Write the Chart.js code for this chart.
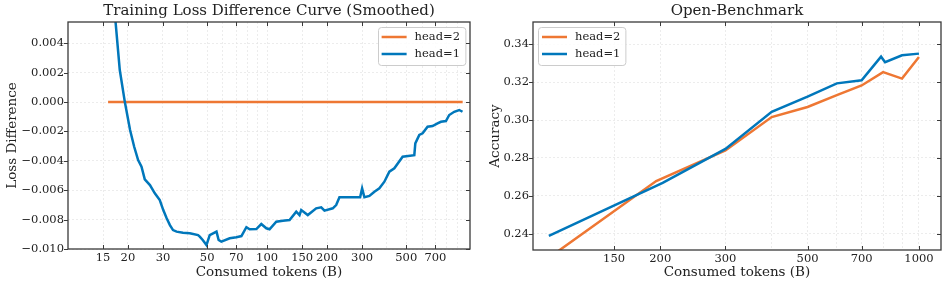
<!DOCTYPE html>
<html>
<head>
<meta charset="utf-8">
<script src="https://cdn.jsdelivr.net/npm/chart.js@4.4.1/dist/chart.umd.min.js"></script>
<style>
  html, body { margin: 0; padding: 0; background: #fff; }
  #wrap { position: relative; width: 947px; height: 287px; }
  .panel { position: absolute; top: 0; height: 287px; }
  #lossPanel { left: 0; width: 473px; }
  #benchPanel { left: 473px; width: 474px; }
</style>
</head>
<body>
<div id="wrap">
  <div class="panel" id="lossPanel"><canvas id="lossChart"></canvas></div>
  <div class="panel" id="benchPanel"><canvas id="benchChart"></canvas></div>
</div>
<script>
// ---- left panel: smoothed loss difference ----
const lossTokens = [16.3, 17.3, 18.2, 19.3, 20.5, 21.5, 22.5, 23.4, 24.3, 25.8, 27.3, 28.9, 30.1, 31.3, 32.5, 33.7,
  35.1, 37.8, 40.9, 45.0, 45.9, 47.5, 49.6, 51.5, 55.7, 57.1, 58.9, 64.9, 70.1, 74.3, 78.7, 81.7, 88.3, 93.5, 99.1,
  102.9, 111.2, 120.0, 129.7, 140.1, 145.5, 148.4, 160.1, 176.4, 187.0, 194.2, 213.7, 222.3, 230.9, 293.3, 300.1,
  308.2, 326.5, 345.9, 366.4, 388.2, 411.2, 435.6, 479.4, 548.8, 555.2, 581.4, 604.0, 639.8, 677.7, 717.9, 746.7,
  791.0, 821.8, 870.7, 922.4, 958.3];
const lossHead1 = [0.0118, 0.00558, 0.00218, 0.0, -0.0019, -0.00304, -0.00395, -0.0044, -0.00526, -0.00565, -0.00621,
  -0.00667, -0.00735, -0.00791, -0.00837, -0.00871, -0.00882, -0.00889, -0.00893, -0.00905, -0.00916, -0.00939,
  -0.00973, -0.00905, -0.00882, -0.00939, -0.0095, -0.00927, -0.0092, -0.00912, -0.00852, -0.00866, -0.00864,
  -0.0083, -0.00859, -0.00866, -0.00814, -0.00807, -0.00803, -0.00746, -0.00769, -0.00735, -0.00769, -0.00723,
  -0.00716, -0.00739, -0.00723, -0.00701, -0.00648, -0.00648, -0.00587, -0.00648, -0.00639, -0.0061, -0.00587,
  -0.00542, -0.00474, -0.00451, -0.00372, -0.00361, -0.00281, -0.00224, -0.00213, -0.00168, -0.00163, -0.00145,
  -0.00134, -0.00129, -0.00088, -0.00066, -0.00054, -0.00066];
const lossBaseTokens = [15.9, 960];
const lossHead2 = [0, 0];
const lossXTicks = [15, 20, 30, 50, 70, 100, 150, 200, 300, 500, 700];
const lossXGrid = [15, 20, 30, 40, 50, 60, 70, 80, 90, 100, 150, 200, 300, 400, 500, 600, 700, 800, 900];
const lossYTicks = [-0.010, -0.008, -0.006, -0.004, -0.002, 0.000, 0.002, 0.004];

// ---- right panel: Open-Benchmark accuracy ----
const benchTokensH2 = [100, 195, 300, 400, 500, 600, 700, 800, 900, 1000];
const benchHead2 = [0.2273, 0.2678, 0.2840, 0.3016, 0.3069, 0.3132, 0.3183, 0.3253, 0.3219, 0.3333];
const benchTokensH1 = [100, 203, 300, 400, 500, 600, 700, 790, 810, 900, 1000];
const benchHead1 = [0.2388, 0.2669, 0.2848, 0.3044, 0.3124, 0.3194, 0.3210, 0.3335, 0.3306, 0.3342, 0.3351];
const benchXTicks = [150, 200, 300, 500, 700, 1000];
const benchXGrid = [150, 200, 300, 400, 500, 600, 700, 800, 900, 1000];
const benchYTicks = [0.24, 0.26, 0.28, 0.30, 0.32, 0.34];

const ORANGE = '#EE7733';
const BLUE = '#0077BB';
const FONT = '"DejaVu Serif", serif';

Chart.defaults.font.family = FONT;
Chart.defaults.color = '#222';

const pairs = (xs, ys) => xs.map((x, i) => ({ x: x, y: ys[i] }));

// matplotlib-ish frame with inward ticks (outward on the left axis)
const frameTicks = {
  id: 'frameTicks',
  afterDraw(chart, args, opts) {
    const { ctx, chartArea: a, scales: { x, y } } = chart;
    ctx.save();
    ctx.strokeStyle = '#3a3a3a';
    ctx.lineWidth = 1;
    ctx.beginPath();
    opts.xMarks.forEach(v => {
      const px = Math.round(x.getPixelForValue(v)) + 0.5;
      ctx.moveTo(px, a.bottom); ctx.lineTo(px, a.bottom - 4);
      ctx.moveTo(px, a.top); ctx.lineTo(px, a.top + 4);
    });
    opts.yMarks.forEach(v => {
      const py = Math.round(y.getPixelForValue(v)) + 0.5;
      ctx.moveTo(a.left - 4, py); ctx.lineTo(a.left, py);
      ctx.moveTo(a.right, py); ctx.lineTo(a.right - 4, py);
    });
    ctx.stroke();
    ctx.lineWidth = 1.3;
    ctx.strokeRect(a.left, a.top, a.right - a.left, a.bottom - a.top);
    ctx.restore();
  }
};

const boxLegend = {
  id: 'boxLegend',
  afterDatasetsDraw(chart, args, opts) {
    const { ctx, chartArea: a } = chart;
    const items = chart.data.datasets;
    ctx.save();
    ctx.font = '11.5px ' + FONT;
    const textW = Math.max(...items.map(d => ctx.measureText(d.label).width));
    const w = 37 + textW + 5, h = 38;
    const bx = opts.align === 'right' ? a.right - 5 - w : a.left + 5;
    const by = a.top + 5;
    ctx.fillStyle = 'rgba(255,255,255,0.85)';
    ctx.strokeStyle = '#cccccc';
    ctx.lineWidth = 1;
    ctx.beginPath();
    ctx.roundRect(Math.round(bx) + 0.5, by + 0.5, w, h, 3);
    ctx.fill();
    ctx.stroke();
    items.forEach((d, i) => {
      const cy = by + 10 + i * 17;
      ctx.strokeStyle = d.borderColor;
      ctx.lineWidth = 2.5;
      ctx.beginPath();
      ctx.moveTo(bx + 4, cy);
      ctx.lineTo(bx + 29, cy);
      ctx.stroke();
      ctx.fillStyle = '#222';
      ctx.textBaseline = 'middle';
      ctx.fillText(d.label, bx + 37, cy);
    });
    ctx.restore();
  }
};

// centre the title over the plot area, like matplotlib does
const centerTitle = {
  id: 'centerTitle',
  afterLayout(chart) {
    const t = chart.titleBlock;
    if (t) {
      t.left = chart.chartArea.left;
      t.right = chart.chartArea.right;
      t.width = t.right - t.left;
    }
  }
};

function makeChart(canvasId, cfg) {
  return new Chart(document.getElementById(canvasId), {
    type: 'line',
    data: { datasets: cfg.datasets },
    plugins: [frameTicks, boxLegend, centerTitle],
    options: {
      responsive: true,
      maintainAspectRatio: false,
      animation: false,
      layout: { padding: { top: 0, right: cfg.padRight, bottom: 0, left: 0 } },
      elements: { point: { radius: 0 }, line: { borderWidth: 2.5, tension: 0 } },
      plugins: {
        legend: { display: false },
        tooltip: { enabled: false },
        title: {
          display: true, text: cfg.title, color: '#222',
          font: { size: 15, weight: 'normal' }, padding: { top: 2, bottom: 2 }
        },
        frameTicks: { xMarks: cfg.xTicks, yMarks: cfg.yTicks },
        boxLegend: { align: cfg.legendAlign }
      },
      scales: {
        x: {
          type: 'logarithmic',
          min: cfg.xMin, max: cfg.xMax,
          afterBuildTicks: s => { s.ticks = cfg.xGrid.map(v => ({ value: v })); },
          afterFit: s => { s.height = cfg.xAxisHeight; },
          ticks: {
            autoSkip: false, maxRotation: 0, minRotation: 0, padding: 2,
            font: { size: 11.5 }, color: '#222',
            callback: v => cfg.xTicks.includes(v) ? String(v) : ''
          },
          grid: { color: '#e4e4e4', lineWidth: 0.7, drawTicks: false },
          border: { display: false, dash: [2, 2] },
          title: {
            display: true, text: 'Consumed tokens (B)', color: '#222',
            font: { size: 13.5 }, padding: { top: 0, bottom: 6 }
          }
        },
        y: {
          type: 'linear',
          min: cfg.yMin, max: cfg.yMax,
          afterBuildTicks: s => { s.ticks = cfg.yTicks.map(v => ({ value: v })); },
          afterFit: s => { s.width = cfg.yAxisWidth; },
          ticks: {
            padding: 4, font: { size: 11.5 }, color: '#222',
            callback: cfg.yFormat
          },
          grid: { color: '#e4e4e4', lineWidth: 0.7, drawTicks: false },
          border: { display: false, dash: [2, 2] },
          title: {
            display: true, text: cfg.yTitle, color: '#222',
            font: { size: 13.5 }, padding: { top: cfg.yTitlePad, bottom: 0 }
          }
        }
      }
    }
  });
}

makeChart('lossChart', {
  title: 'Training Loss Difference Curve (Smoothed)',
  yTitle: 'Loss Difference',
  datasets: [
    { label: 'head=2', data: pairs(lossBaseTokens, lossHead2), borderColor: ORANGE, order: 1 },
    { label: 'head=1', data: pairs(lossTokens, lossHead1), borderColor: BLUE, order: 0 }
  ],
  xMin: 10, xMax: 1045, xTicks: lossXTicks, xGrid: lossXGrid,
  yMin: -0.010, yMax: 0.00545, yTicks: lossYTicks,
  yFormat: v => (v < -1e-9 ? '\u2212' : '') + Math.abs(v).toFixed(3),
  padRight: 3, yAxisWidth: 68, xAxisHeight: 38, yTitlePad: 4,
  legendAlign: 'right'
});

makeChart('benchChart', {
  title: 'Open-Benchmark',
  yTitle: 'Accuracy',
  datasets: [
    { label: 'head=2', data: pairs(benchTokensH2, benchHead2), borderColor: ORANGE, order: 1 },
    { label: 'head=1', data: pairs(benchTokensH1, benchHead1), borderColor: BLUE, order: 0 }
  ],
  xMin: 90.6, xMax: 1147, xTicks: benchXTicks, xGrid: benchXGrid,
  yMin: 0.2314, yMax: 0.3518, yTicks: benchYTicks,
  yFormat: v => v.toFixed(2),
  padRight: 6, yAxisWidth: 60, xAxisHeight: 37, yTitlePad: 14,
  legendAlign: 'left'
});
</script>
</body>
</html>
